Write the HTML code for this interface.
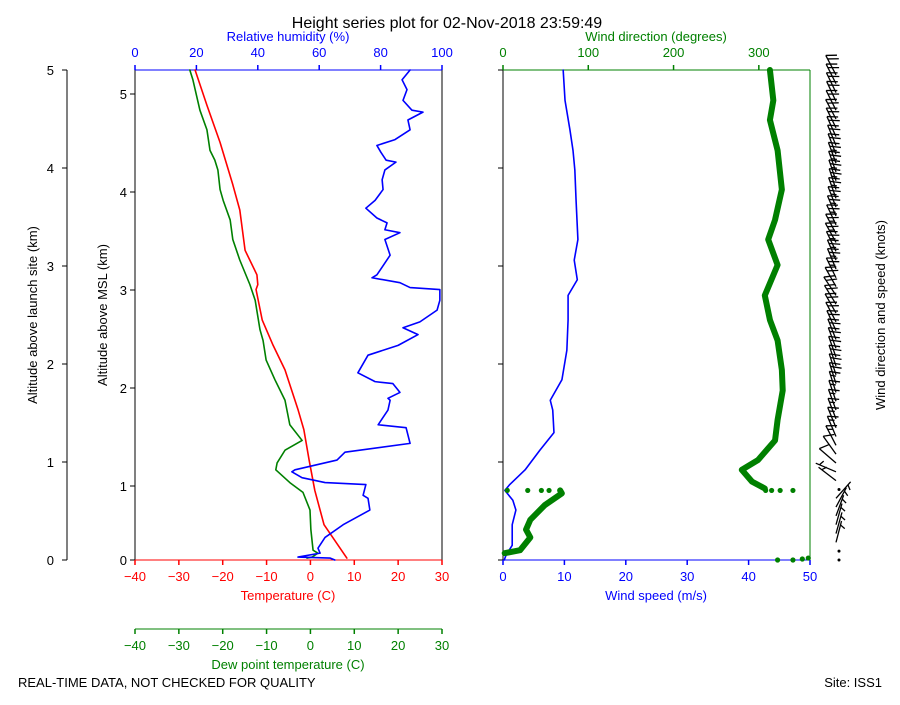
<!DOCTYPE html>
<html><head><meta charset="utf-8"><style>
body{margin:0;background:#fff}
svg text{font-family:"Liberation Sans",sans-serif;font-size:13px}
</style></head><body>
<svg id="c" width="900" height="700" viewBox="0 0 900 700" xmlns="http://www.w3.org/2000/svg"></svg>
<script>
// ---- data (altitude above launch site, km) ----
const tempH=[0.02,0.36,0.71,1.02,1.33,1.53,1.94,2.19,2.45,2.76,2.81,2.91,3.16,3.57,3.83,4.26,4.64,5.0];
const tempV=[8.3,3.1,1.0,-0.3,-1.5,-2.8,-5.8,-8.5,-11.0,-12.4,-12.0,-12.2,-14.9,-16.1,-17.7,-20.6,-23.6,-26.3];
const dewH=[0.02,0.03,0.07,0.10,0.31,0.51,0.69,0.79,0.92,0.99,1.12,1.22,1.38,1.63,1.84,2.04,2.24,2.35,2.65,2.81,3.06,3.27,3.47,3.67,3.78,3.98,4.08,4.18,4.39,4.59,4.90,5.0];
const dewV=[-0.8,0.4,1.7,0.6,0.1,-0.1,-1.7,-4.7,-7.9,-7.6,-5.8,-1.9,-4.7,-5.8,-8.1,-10.1,-10.8,-11.5,-12.6,-13.8,-16.1,-17.7,-18.3,-19.9,-20.6,-21.1,-21.8,-22.9,-23.6,-25.2,-26.8,-27.5];
const rhH=[0,0.02,0.03,0.07,0.12,0.23,0.36,0.51,0.63,0.66,0.77,0.79,0.84,0.90,0.92,1.02,1.10,1.19,1.35,1.38,1.53,1.63,1.65,1.71,1.80,1.82,1.91,2.09,2.19,2.30,2.37,2.43,2.55,2.65,2.76,2.78,2.83,2.88,2.91,3.11,3.27,3.34,3.37,3.44,3.49,3.59,3.67,3.78,3.88,3.98,4.06,4.08,4.16,4.23,4.29,4.39,4.49,4.57,4.59,4.69,4.80,4.90,5.0];
const rhV=[65.1,63.5,53.1,60.3,59.6,61.9,67.8,76.5,75.9,74.3,75.2,61.9,54.4,51.1,52.1,65.8,68.4,89.6,88.3,79.2,82.4,83.1,82.4,86.3,84.0,78.2,72.6,75.9,85.7,92.2,87.3,92.8,98.4,99.3,99.3,89.6,86.3,77.2,78.8,83.1,81.4,86.3,81.4,82.1,78.8,75.2,78.2,80.8,80.5,81.4,85.0,81.8,80.1,78.8,84.7,89.6,88.9,93.8,90.2,87.3,88.6,87.0,89.6];
const spdH=[0,0.05,0.15,0.36,0.51,0.61,0.71,0.77,0.92,1.12,1.30,1.53,1.63,1.84,2.14,2.45,2.70,2.86,3.06,3.27,3.67,3.98,4.18,4.39,4.69,5.0];
const spdV=[0.2,0.5,1.5,1.5,2.1,1.6,0.3,1.1,3.6,6.0,8.3,8.1,7.7,9.6,10.4,10.6,10.6,12.1,11.6,12.2,11.9,11.7,11.4,10.9,10.1,9.8];
const dirLowH=[0.07,0.10,0.23,0.31,0.41,0.56,0.68,0.71];
const dirLowV=[2,20,32,27,32,49,69,67];
const dirH=[0.73,0.80,0.92,1.02,1.22,1.43,1.73,1.94,2.24,2.45,2.70,3.01,3.27,3.47,3.78,4.18,4.49,4.69,5.0];
const dirV=[307,292,280,299,319,322,328,327,322,313,307,322,311,319,327,322,313,317,313];
const dotH=[0,0,0.01,0.02,0.71,0.71,0.71,0.71,0.71,0.71,0.71,0.71];
const dotV=[322,340,351,358,5,29,45,54,308,315,325,340];
const tempTicks=[-40,-30,-20,-10,0,10,20,30];
const rhTicks=[0,20,40,60,80,100];
const spdTicks=[0,10,20,30,40,50];
const dirTicks=[0,100,200,300];
const altTicks=[0,1,2,3,4,5];
const mslTicks=[0,1,2,3,4,5];
const mslOffset=0.245;

// ---- axes ----
const Y=h=>560-h*98;
const XT=t=>135+(t+40)*307/70;
const XR=r=>135+r*3.07;
const XS=v=>503+v*6.14;
const XD=d=>503+d*307/360;

const svg=document.getElementById('c');
const NS='http://www.w3.org/2000/svg';
function el(tag,attrs,parent){const e=document.createElementNS(NS,tag);for(const k in attrs)e.setAttribute(k,attrs[k]);(parent||svg).appendChild(e);return e;}
function txt(x,y,s,fill,anchor,name,rot){const t=el('text',{x:x,y:y,fill:fill||'#000','text-anchor':anchor||'middle'});t.textContent=s;


if(rot)t.setAttribute('transform','rotate(-90 '+x+' '+y+')');return t;}
function line(x1,y1,x2,y2,c,name,w){const l=el('line',{x1:x1,y1:y1,x2:x2,y2:y2,stroke:c,'stroke-width':w||1});

return l;}
function poly(xs,ys,c,w,name){const p=el('polyline',{points:xs.map((x,i)=>x+','+ys[i]).join(' '),fill:'none',stroke:c,'stroke-width':w,'stroke-linejoin':'round','stroke-linecap':'round'});

return p;}

txt(447,28,'Height series plot for 02-Nov-2018 23:59:49','#000','middle','chart-title').setAttribute('style','font-size:16px');

// left altitude axis
line(67,70,67,560,'#000','agl-axis-spine');
altTicks.forEach(h=>{line(62,Y(h),67,Y(h),'#000','agl-tick');txt(54,Y(h)+5,String(h),'#000','end','agl-tick-label');});
txt(37,315,'Altitude above launch site (km)','#000','middle','agl-axis-title',true);
// MSL axis
mslTicks.forEach(m=>{const y=m===0?560:Y(m-mslOffset);line(130,y,135,y,'#000','msl-tick');txt(127,y+5,String(m),'#000','end','msl-tick-label');});
txt(107,315,'Altitude above MSL (km)','#000','middle','msl-axis-title',true);

// plot 1 frame
line(135,70,135,560,'#000','plot1-left-spine');
line(442,70,442,560,'#000','plot1-right-spine');
line(135,70,442,70,'blue','rh-axis-spine');
line(135,560,442,560,'red','temp-axis-spine');
rhTicks.forEach(r=>{line(XR(r),65,XR(r),70,'blue','rh-tick',1.5);txt(XR(r),57,String(r),'blue','middle','rh-tick-label');});
txt(288,41,'Relative humidity (%)','blue','middle','rh-axis-title');
tempTicks.forEach(t=>{line(XT(t),560,XT(t),565,'red','temp-tick',1.5);txt(XT(t),581,String(t).replace('-','\u2212'),'red','middle','temp-tick-label');});
txt(288,600,'Temperature (C)','red','middle','temp-axis-title');
line(135,629,442,629,'green','dewpoint-axis-spine');
tempTicks.forEach(t=>{line(XT(t),629,XT(t),634,'green','dewpoint-tick',1.5);txt(XT(t),650,String(t).replace('-','\u2212'),'green','middle','dewpoint-tick-label');});
txt(288,669,'Dew point temperature (C)','green','middle','dewpoint-axis-title');

poly(dewH.map((h,i)=>XT(dewV[i])),dewH.map(Y),'green',1.6,'dewpoint-line');
poly(tempH.map((h,i)=>XT(tempV[i])),tempH.map(Y),'red',1.6,'temperature-line');
poly(rhH.map((h,i)=>XR(rhV[i])),rhH.map(Y),'blue',1.6,'rh-line');

// plot 2 frame
line(503,70,503,560,'#000','plot2-left-spine');
line(810,70,810,560,'green','plot2-right-spine');
line(503,70,810,70,'green','wind-dir-axis-spine');
line(503,560,810,560,'blue','wind-speed-axis-spine');
altTicks.forEach(h=>line(498,Y(h),503,Y(h),'#000','plot2-tick'));
dirTicks.forEach(d=>{line(XD(d),65,XD(d),70,'green','wind-dir-tick',1.5);txt(XD(d),57,String(d),'green','middle','wind-dir-tick-label');});
txt(656,41,'Wind direction (degrees)','green','middle','wind-dir-axis-title');
spdTicks.forEach(v=>{line(XS(v),560,XS(v),565,'blue','wind-speed-tick',1.5);txt(XS(v),581,String(v),'blue','middle','wind-speed-tick-label');});
txt(656,600,'Wind speed (m/s)','blue','middle','wind-speed-axis-title');

poly(spdH.map((h,i)=>XS(spdV[i])),spdH.map(Y),'blue',1.6,'wind-speed-line');
poly(dirLowH.map((h,i)=>XD(dirLowV[i])),dirLowH.map(Y),'green',6,'wind-dir-line-low');
poly(dirH.map((h,i)=>XD(dirV[i])),dirH.map(Y),'green',6,'wind-dir-line');
dotH.forEach((h,i)=>{const c=el('circle',{cx:XD(dotV[i]),cy:Y(h),r:2.6,fill:'green'});

});

// wind barbs
function interp(hs,vs,h){if(h<=hs[0])return vs[0];for(let i=1;i<hs.length;i++){if(h<=hs[i]){const f=(h-hs[i-1])/(hs[i]-hs[i-1]);return vs[i-1]+f*(vs[i]-vs[i-1]);}}return vs[vs.length-1];}
const bg=el('g',{});


for(let h=0;h<=5.0001;h+=0.09){
  const y=Y(h);const ax=836;
  const spd=interp(spdH,spdV,h)*1.944;
  let dir;
  if(h<0.72)dir=interp(dirLowH,dirLowV,Math.max(h,0.07));else dir=interp(dirH,dirV,h);
  if(spd<2.5){el('circle',{cx:ax+3,cy:y,r:1.5,fill:'#000'},bg);continue;}
  const a=dir*Math.PI/180, L=22;
  const ux=Math.sin(a)*0.5, uy=-Math.cos(a);
  const n=Math.hypot(ux,uy);const dx=ux/n,dy=uy/n;
  const tx=ax+dx*L, ty=y+dy*L;
  el('line',{x1:ax,y1:y,x2:tx,y2:ty,stroke:'#000','stroke-width':1.3},bg);
  let rem=Math.round(spd/5)*5, k=0;
  let px=-dy, py=dx;
  if(px<0){px=-px;py=-py;}
  while(rem>=10){const bx=tx-dx*k*4, by=ty-dy*k*4;el('line',{x1:bx,y1:by,x2:bx+px*10-dx*5,y2:by+py*10-dy*5,stroke:'#000','stroke-width':1.3},bg);rem-=10;k++;}
  if(rem>=5){const bx=tx-dx*(k===0?1:k)*4, by=ty-dy*(k===0?1:k)*4;el('line',{x1:bx,y1:by,x2:bx+px*5-dx*2.5,y2:by+py*5-dy*2.5,stroke:'#000','stroke-width':1.3},bg);}
}
txt(885,315,'Wind direction and speed (knots)','#000','middle','barb-axis-title',true);

txt(18,687,'REAL-TIME DATA, NOT CHECKED FOR QUALITY','#000','start','quality-note');
txt(882,687,'Site: ISS1','#000','end','site-label');
</script>
</body></html>
